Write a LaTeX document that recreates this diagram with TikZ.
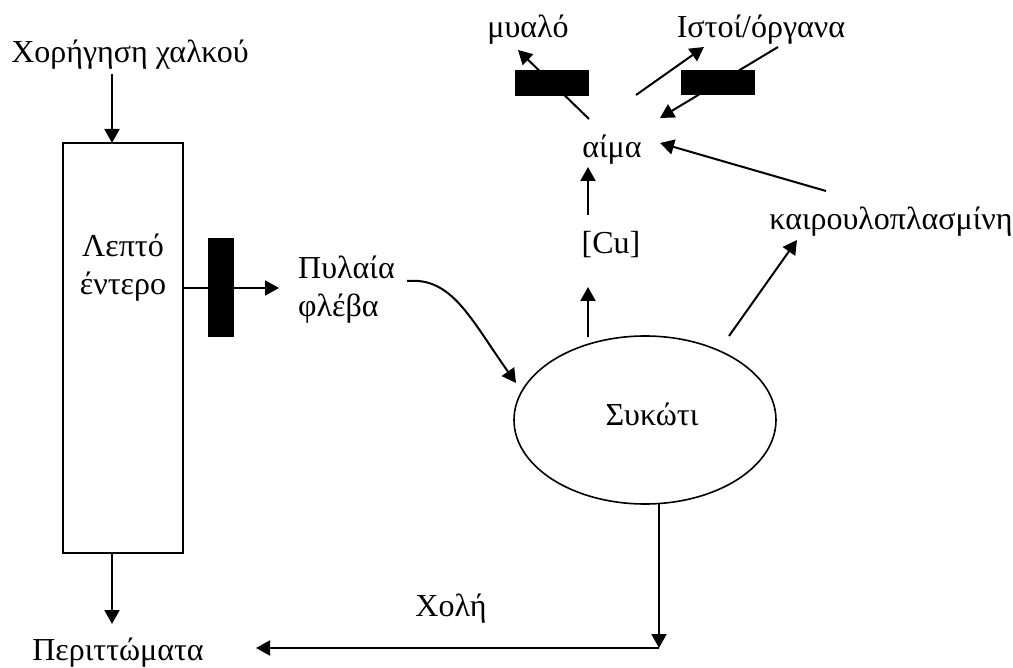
\documentclass[tikz,border=0pt]{standalone}
\usepackage{fontspec}
\setmainfont{Liberation Serif}
\usetikzlibrary{arrows.meta,shapes.geometric}
\tikzset{
  lbl/.style={inner sep=0pt, font=\fontsize{32}{38}\selectfont, align=center},
  conn/.style={line width=2pt, -{Triangle[length=14pt,width=15pt]}},
  bar/.style={fill=black, draw=none, inner sep=0pt},
}
\begin{document}
\begin{tikzpicture}[x=1pt,y=-1pt]
\useasboundingbox (0,0) rectangle (1013,668);
% texts and shapes
\node[lbl] (supply) at (130,55) {Χορήγηση χαλκού};
\node[draw, line width=1.6pt, minimum width=120pt, minimum height=410pt, inner sep=0pt] (gut) at (123,348) {};
\node[lbl] (gutlbl) at (123,268) {Λεπτό\\έντερο};
\node[lbl, align=left, anchor=west] (portal) at (298,290) {Πυλαία\\φλέβα};
\node[draw, ellipse, line width=1.6pt, minimum width=262pt, minimum height=168pt, inner sep=0pt] (liver) at (645,420) {};
\node[lbl] (liverlbl) at (652,414) {Συκώτι};
\node[lbl] (cu) at (611,245) {[Cu]};
\node[lbl] (blood) at (612,150) {αίμα};
\node[lbl] (cp) at (891,222) {καιρουλοπλασμίνη};
\node[lbl] (brain) at (528,30) {μυαλό};
\node[lbl] (tissue) at (761,30) {Ιστοί/όργανα};
\node[lbl] (bile) at (451,609) {Χολή};
\node[lbl] (waste) at (118,653) {Περιττώματα};
% coordinates
\coordinate (s1) at (112,74);
\coordinate (g1) at (112,143);
\coordinate (g2) at (112,553);
\coordinate (w1) at (112,624);
\coordinate (gE) at (183,288);
\coordinate (pW) at (279,288);
\coordinate (c1) at (407,281);
\coordinate (c2) at (516,383);
\coordinate (l1) at (588,337);
\coordinate (cu1) at (588,287);
\coordinate (cu2) at (588,215);
\coordinate (b1) at (588,167);
\coordinate (l2) at (729,336);
\coordinate (cp1) at (797,240);
\coordinate (cp2) at (826,191);
\coordinate (b2) at (660,143);
\coordinate (b3) at (589,119);
\coordinate (br1) at (518,50);
\coordinate (b4) at (636,95);
\coordinate (t1) at (704,47);
\coordinate (t2) at (778,47);
\coordinate (b5) at (660,118);
\coordinate (l3) at (659,504);
\coordinate (corner) at (659,648);
\coordinate (w2) at (256,648);
% connectors
\draw[conn] (s1) -- (g1);
\draw[conn] (g2) -- (w1);
\draw[conn] (gE) -- (pW);
\draw[conn] (c1) .. controls (452,277) and (470,318) .. (c2);
\draw[conn] (l1) -- (cu1);
\draw[conn] (cu2) -- (b1);
\draw[conn] (l2) -- (cp1);
\draw[conn] (cp2) -- (b2);
\draw[conn] (b3) -- (br1);
\draw[conn] (b4) -- (t1);
\draw[conn] (t2) -- (b5);
\draw[conn] (l3) -- (corner);
\draw[conn] (corner) -- (w2);
% barriers
\node[bar, minimum width=26pt, minimum height=99pt] (bar1) at (221,288) {};
\node[bar, minimum width=74pt, minimum height=26pt] (bar2) at (552,83) {};
\node[bar, minimum width=74pt, minimum height=25pt] (bar3) at (718,82.5) {};
\end{tikzpicture}
\end{document}
